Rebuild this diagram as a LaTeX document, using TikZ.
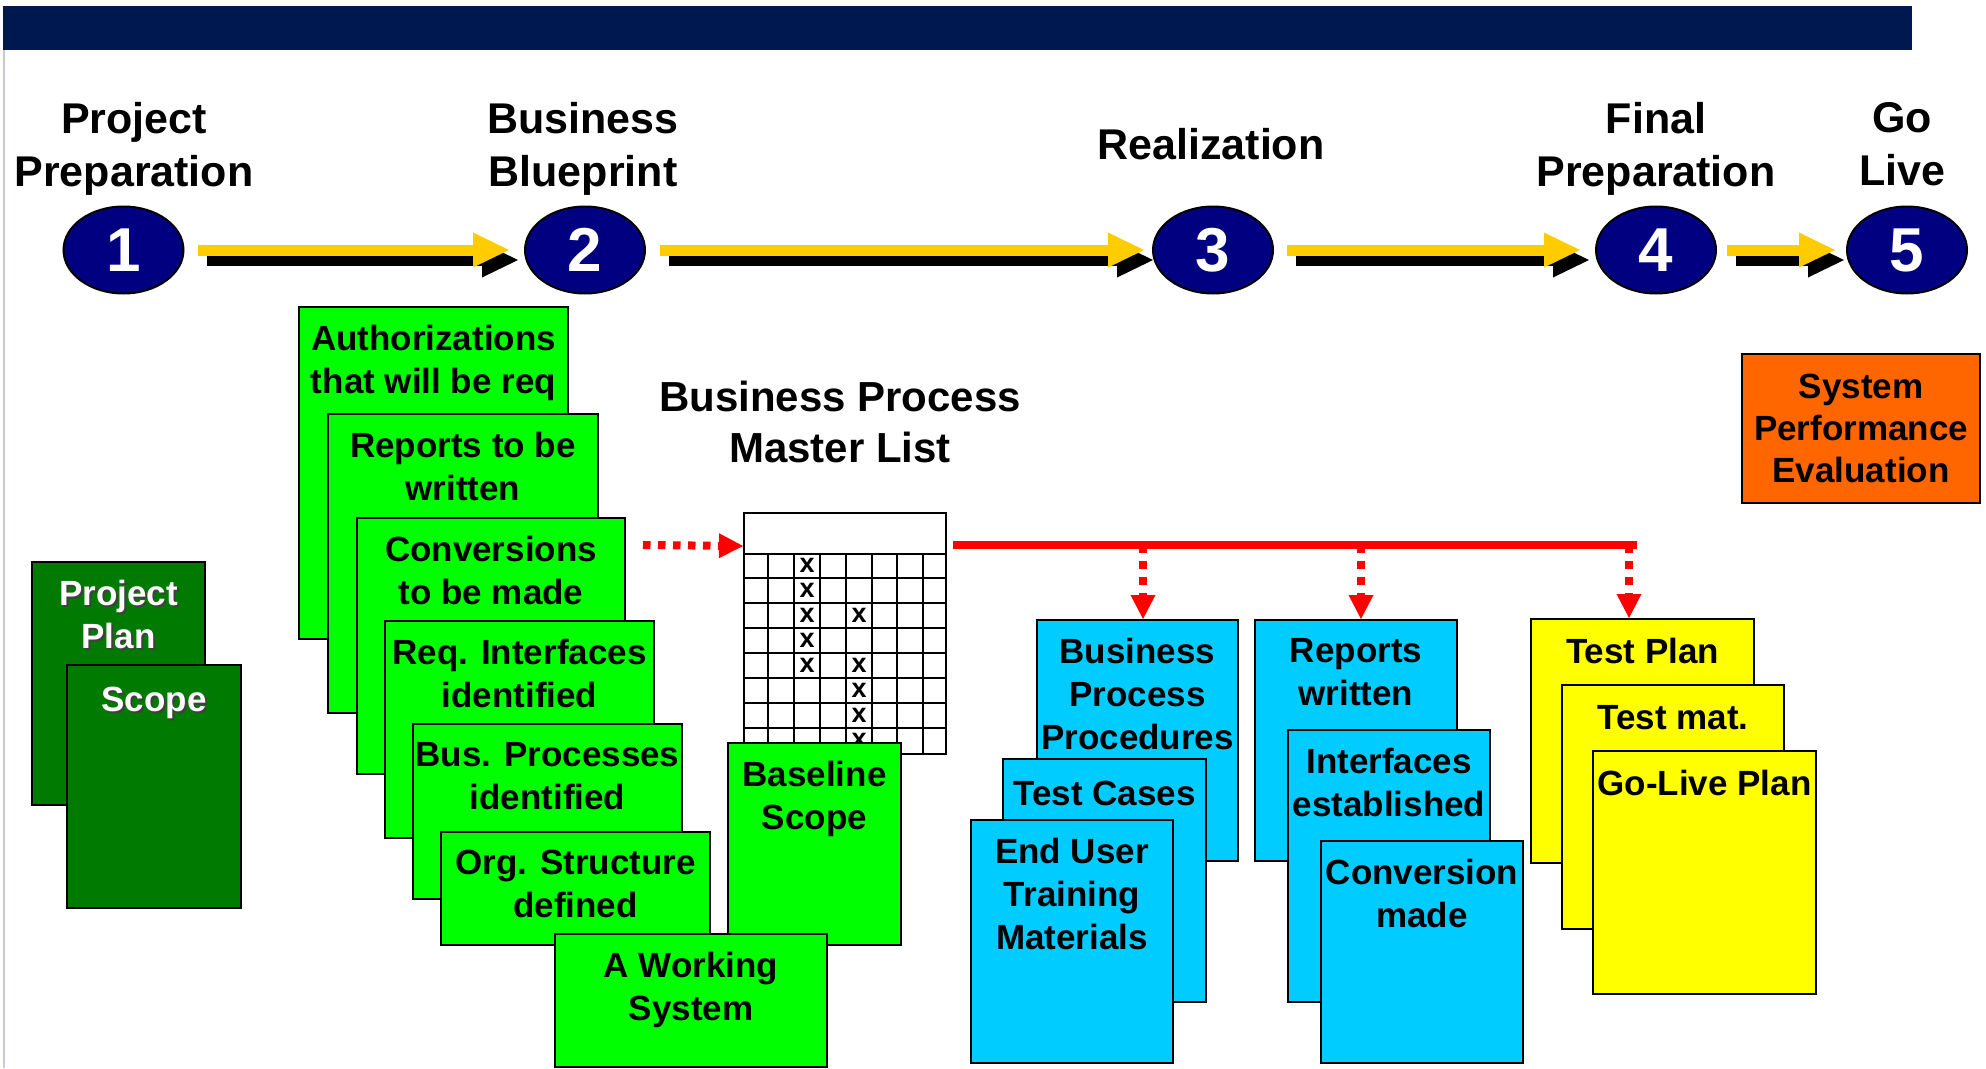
\documentclass[tikz,border=0pt]{standalone}
\usepackage{fontspec}
\setmainfont{Liberation Sans}
\usepackage{xcolor}
\usepackage{tikz}
\usetikzlibrary{arrows.meta,shapes.geometric,positioning}
\definecolor{barblue}{RGB}{0, 24, 80}
\definecolor{phaseblue}{RGB}{0, 0, 128}
\definecolor{flowyellow}{RGB}{255, 204, 0}
\definecolor{darkgreen}{RGB}{0, 122, 0}
\definecolor{lightgreen}{RGB}{0, 255, 0}
\definecolor{skyblue}{RGB}{0, 204, 255}
\definecolor{paperyellow}{RGB}{255, 255, 0}
\definecolor{evalorange}{RGB}{255, 102, 0}
\definecolor{edgegray}{RGB}{200, 200, 215}
\newcommand{\dropshadowtext}[1]{\makebox[0pt][l]{\kern2pt\raisebox{-2pt}{\color{black!75}#1}}#1}

\begin{document}
\begin{tikzpicture}[x=1pt, y=-1pt,
    phase/.style={ellipse, draw=black, line width=2pt, fill=phaseblue, text=white,
        minimum width=120, minimum height=87, inner sep=0pt,
        font=\bfseries\fontsize{62}{62}\selectfont},
    phasetitle/.style={anchor=north, align=center, inner sep=0pt,
        font=\bfseries\fontsize{43}{53}\selectfont, execute at begin node=\strut},
    sheet/.style={draw=black, line width=2pt, anchor=north west, inner sep=0pt},
    sheettext/.style={anchor=north, align=center, inner sep=0pt,
        font=\bfseries\fontsize{35}{43}\selectfont, execute at begin node=\strut},
    flow/.style={flowyellow, line width=11pt, -{Triangle[length=36pt, width=35pt, line width=0pt]}},
    flowshadow/.style={flow, black},
    redlink/.style={red, line width=8pt},
    dotlink/.style={redlink, dash pattern=on 7.5pt off 7.5pt,
        -{Triangle[length=24pt, width=25pt, line width=0pt]}},
    gridline/.style={black, line width=1.8pt},
    xmark/.style={inner sep=0pt, font=\bfseries\fontsize{27}{27}\selectfont}]
    \useasboundingbox (0,0) rectangle (1986,1068);

    % Header bar and page edge
    \fill[barblue] (3,6) rectangle (1912,50);
    \draw[edgegray, line width=1.5pt] (4,50) -- (4,1068);

    % Phase titles
    \node[phasetitle] (t1) at (134,102) {Project\\Preparation};
    \node[phasetitle] (t2) at (583,102) {Business\\Blueprint};
    \node[phasetitle] (t3) at (1211,122) {Realization};
    \node[phasetitle] (t4) at (1656,102) {Final\\Preparation};
    \node[phasetitle] (t5) at (1902,102) {Go\\Live};

    % Phase markers
    \node[phase] (p1) at (123.5,250) {1};
    \node[phase] (p2) at (585,250) {2};
    \node[phase] (p3) at (1213,250) {3};
    \node[phase] (p4) at (1656,250) {4};
    \node[phase] (p5) at (1907,250) {5};

    % Arrows between the phases, shadow first
    \draw[flowshadow] ([xshift=22, yshift=-10]p1.east) -- ([xshift=-6, yshift=-10]p2.west);
    \draw[flow] ([xshift=13]p1.east) -- ([xshift=-15]p2.west);
    \draw[flowshadow] ([xshift=23, yshift=-10]p2.east) -- ([xshift=1, yshift=-10]p3.west);
    \draw[flow] ([xshift=14]p2.east) -- ([xshift=-8]p3.west);
    \draw[flowshadow] ([xshift=22, yshift=-10]p3.east) -- ([xshift=-6, yshift=-10]p4.west);
    \draw[flow] ([xshift=13]p3.east) -- ([xshift=-15]p4.west);
    \draw[flowshadow] ([xshift=19, yshift=-10]p4.east) -- ([xshift=-2, yshift=-10]p5.west);
    \draw[flow] ([xshift=10]p4.east) -- ([xshift=-11]p5.west);

    % Project preparation
    \node[sheet, fill=darkgreen, minimum width=173, minimum height=243] (pplan) at (31,561) {};
    \node[sheettext, text=white] (pplan-t) at ([yshift=-19]pplan.north) {\dropshadowtext{Project}\\\dropshadowtext{Plan}};
    \node[sheet, fill=darkgreen, minimum width=174, minimum height=243] (scope) at (66,664) {};
    \node[sheettext, text=white] (scope-t) at ([yshift=-17]scope.north) {\dropshadowtext{Scope}};

    % Business blueprint deliverables
    \node[sheet, fill=lightgreen, minimum width=269, minimum height=332] (auth) at (298,306) {};
    \node[sheettext] (auth-t) at ([yshift=-19]auth.north) {Authorizations\\that will be req};
    \node[sheet, fill=lightgreen, minimum width=270, minimum height=299] (rep) at (327,413) {};
    \node[sheettext] (rep-t) at ([yshift=-19]rep.north) {Reports to be\\written};
    \node[sheet, fill=lightgreen, minimum width=268, minimum height=256] (conv) at (356,517) {};
    \node[sheettext] (conv-t) at ([yshift=-19]conv.north) {Conversions\\to be made};
    \node[sheet, fill=lightgreen, minimum width=269, minimum height=217] (iface) at (384,620) {};
    \node[sheettext] (iface-t) at ([yshift=-19]iface.north) {Req. Interfaces\\identified};
    \node[sheet, fill=lightgreen, minimum width=269, minimum height=175] (bproc) at (412,723) {};
    \node[sheettext] (bproc-t) at ([yshift=-19]bproc.north) {Bus. Processes\\identified};
    \node[sheet, fill=lightgreen, minimum width=269, minimum height=113] (org) at (440,831) {};
    \node[sheettext] (org-t) at ([yshift=-19]org.north) {Org. Structure\\defined};

    % Business process master list
    \node[phasetitle, font=\bfseries\fontsize{42}{51}\selectfont] (mltitle) at (840,381) {Business Process\\Master List};
    \node[sheet, fill=white, minimum width=202, minimum height=41] (mlhead) at (743,512) {};
    \node[sheet, fill=white, minimum width=202, minimum height=200] (mlgrid) at (743,553) {};
    \foreach \ry in {578,603,...,728}
        \draw[gridline] (743,\ry) -- (945,\ry);
    \foreach \cx in {768,794,820,846,872,897,923}
        \draw[gridline] (\cx,553) -- (\cx,753);
    \foreach \r in {1,...,5}
        \node[xmark] (xa\r) at (807,{540.5+25*\r}) {x};
    \foreach \r in {3,5,6,7,8}
        \node[xmark] (xb\r) at (859,{540.5+25*\r}) {x};

    \node[sheet, fill=lightgreen, minimum width=173, minimum height=202] (base) at (727,742) {};
    \node[sheettext] (base-t) at ([yshift=-19]base.north) {Baseline\\Scope};
    \node[sheet, fill=lightgreen, minimum width=272, minimum height=133] (work) at (554,933) {};
    \node[sheettext] (work-t) at ([yshift=-19]work.north) {A Working\\System};

    % Red links out of the master list
    \draw[dotlink] ([shift={(17,28)}]conv.north east) -- ([yshift=-12.5]mlhead.west);
    \coordinate (busL) at (953,545);
    \coordinate (busR) at (1637,545);
    \draw[redlink] (busL) -- (busR);
    \coordinate (drop1) at (1143,545);
    \coordinate (drop2) at (1361,545);
    \coordinate (drop3) at (1629,545);

    % Realization deliverables
    \node[sheet, fill=skyblue, minimum width=201, minimum height=241] (bpp) at (1036,619) {};
    \node[sheettext] (bpp-t) at ([yshift=-19]bpp.north) {Business\\Process\\Procedures};
    \node[sheet, fill=skyblue, minimum width=203, minimum height=243] (tcase) at (1002,758) {};
    \node[sheettext] (tcase-t) at ([yshift=-17]tcase.north) {Test Cases};
    \node[sheet, fill=skyblue, minimum width=202, minimum height=243] (euser) at (970,819) {};
    \node[sheettext] (euser-t) at ([yshift=-19]euser.north) {End User\\Training\\Materials};

    \node[sheet, fill=skyblue, minimum width=202, minimum height=241] (repw) at (1254,619) {};
    \node[sheettext] (repw-t) at ([yshift=-19]repw.north) {Reports\\written};
    \node[sheet, fill=skyblue, minimum width=202, minimum height=272] (ifest) at (1287,729) {};
    \node[sheettext] (ifest-t) at ([yshift=-19]ifest.north) {Interfaces\\established};
    \node[sheet, fill=skyblue, minimum width=202, minimum height=222] (convm) at (1320,840) {};
    \node[sheettext] (convm-t) at ([yshift=-19]convm.north) {Conversion\\made};

    % Final preparation deliverables
    \node[sheet, fill=paperyellow, minimum width=223, minimum height=244] (tplan) at (1530,618) {};
    \node[sheettext] (tplan-t) at ([yshift=-15]tplan.north) {Test Plan};
    \node[sheet, fill=paperyellow, minimum width=222, minimum height=244] (tmat) at (1561,684) {};
    \node[sheettext] (tmat-t) at ([yshift=-15]tmat.north) {Test mat.};
    \node[sheet, fill=paperyellow, minimum width=223, minimum height=243] (glive) at (1592,750) {};
    \node[sheettext] (glive-t) at ([yshift=-15]glive.north) {Go-Live Plan};

    \draw[dotlink, dash pattern=on 8pt off 8pt] (drop1) -- (drop1 |- bpp.north);
    \draw[dotlink, dash pattern=on 8pt off 8pt] (drop2) -- (drop2 |- repw.north);
    \draw[dotlink, dash pattern=on 8pt off 8pt] (drop3) -- (drop3 |- tplan.north);

    % Go live
    \node[sheet, fill=evalorange, minimum width=238, minimum height=149, align=center,
        font=\bfseries\fontsize{35}{42}\selectfont] (eval) at (1741,353) {System\\Performance\\Evaluation};
\end{tikzpicture}
\end{document}
